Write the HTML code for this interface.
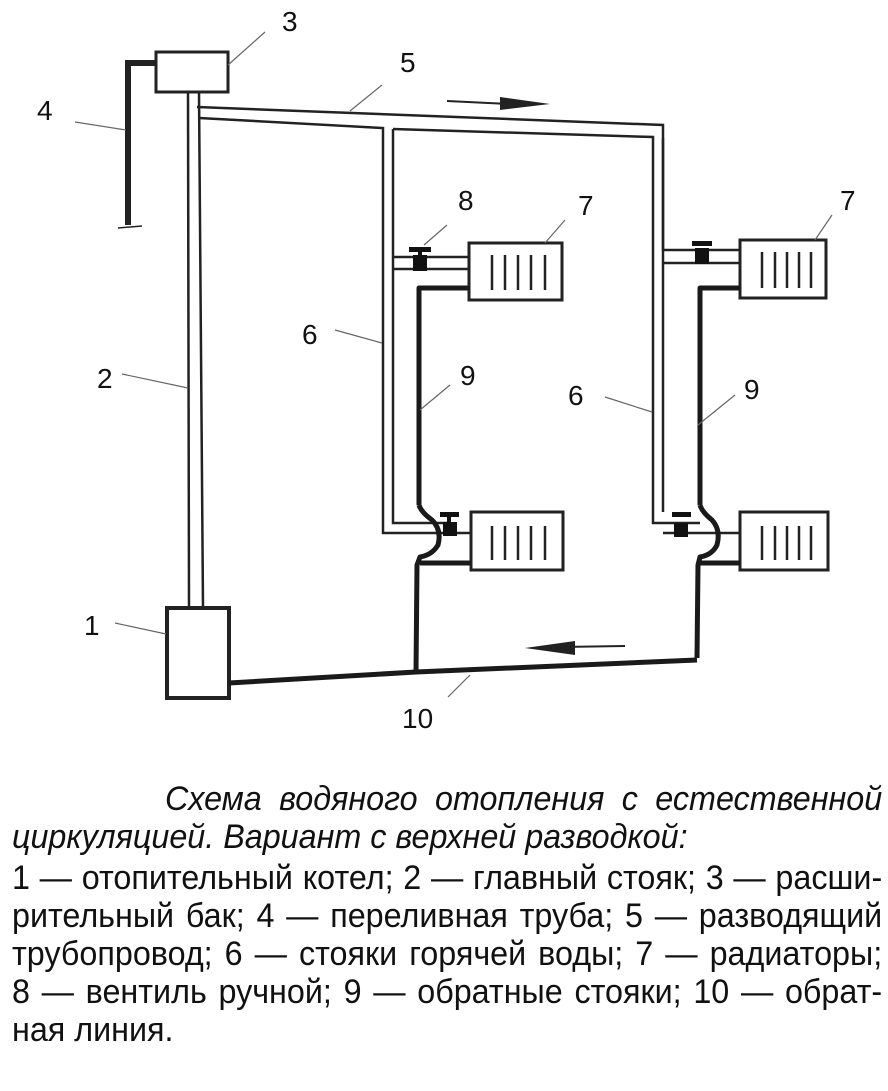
<!DOCTYPE html>
<html><head><meta charset="utf-8"><style>
html,body{margin:0;padding:0;background:#fff;}
body{width:888px;height:1091px;position:relative;overflow:hidden;font-family:"Liberation Sans",Arial,sans-serif;color:#111;}
svg{position:absolute;left:0;top:0;}
.wrap{position:absolute;left:12px;top:0;width:916px;transform:scaleX(0.95);transform-origin:0 0;}
.ln{position:absolute;left:0;width:916px;font-size:34px;line-height:38px;text-align:justify;text-align-last:justify;white-space:nowrap;}
.it{font-style:italic;}
</style></head><body>
<svg width="888" height="760" viewBox="0 0 888 760">
<g fill="none" stroke="#222" stroke-width="2.5">
<rect x="156" y="52" width="72" height="40" stroke-width="3"/>
<polyline points="156,63 128,63 128,225" stroke-width="6"/>
<line x1="118" y1="228" x2="142" y2="226" stroke-width="1.5"/>
<line x1="188" y1="92" x2="189" y2="608"/>
<line x1="199" y1="92" x2="203" y2="608"/>
<polyline points="197,107 663,125 663,250 700,250"/>
<polyline points="199,118 383,128 383,533 471,533"/>
<polyline points="393,129 653,137 653,523 700,523"/>
<polyline points="393,129 393,523 447,523"/>
<polyline points="663,138 663,512"/>
<line x1="393" y1="257" x2="470" y2="257"/>
<line x1="393" y1="269" x2="470" y2="269"/>
<line x1="663" y1="263" x2="740" y2="263"/>
<line x1="700" y1="250" x2="740" y2="250"/>
<line x1="663" y1="533" x2="740" y2="533"/>
<rect x="469" y="243" width="93" height="57" stroke-width="3"/>
<rect x="740" y="240" width="86" height="58" stroke-width="3"/>
<rect x="471" y="512" width="92" height="58" stroke-width="3"/>
<rect x="740" y="512" width="88" height="58" stroke-width="3"/>
<rect x="167" y="608" width="62" height="90" stroke-width="4"/>
</g>
<g stroke="#222" stroke-width="2.5">
<line x1="492" y1="255" x2="492" y2="290"/><line x1="505" y1="255" x2="505" y2="290"/><line x1="518" y1="255" x2="518" y2="290"/><line x1="531" y1="255" x2="531" y2="290"/><line x1="545" y1="255" x2="545" y2="290"/>
<line x1="762" y1="252" x2="762" y2="288"/><line x1="775" y1="252" x2="775" y2="288"/><line x1="787" y1="252" x2="787" y2="288"/><line x1="799" y1="252" x2="799" y2="288"/><line x1="811" y1="252" x2="811" y2="288"/>
<line x1="492" y1="526" x2="492" y2="560"/><line x1="505" y1="526" x2="505" y2="560"/><line x1="518" y1="526" x2="518" y2="560"/><line x1="531" y1="526" x2="531" y2="560"/><line x1="545" y1="526" x2="545" y2="560"/>
<line x1="762" y1="526" x2="762" y2="560"/><line x1="775" y1="526" x2="775" y2="560"/><line x1="787" y1="526" x2="787" y2="560"/><line x1="799" y1="526" x2="799" y2="560"/><line x1="811" y1="526" x2="811" y2="560"/>
</g>
<g fill="none" stroke="#1a1a1a" stroke-width="5" stroke-linejoin="round">
<polyline points="470,288 419,288 419,505"/>
<path d="M419,505 Q421,512 432,520 Q442,530 438,545 Q432,555 420,557 L417,565 L416,672"/>
<line x1="420" y1="563" x2="471" y2="563"/>
<polyline points="740,288 700,288 700,505"/>
<path d="M700,505 Q702,512 712,520 Q721,530 717,545 Q712,555 700,557 L698,565 L697,658"/>
<line x1="700" y1="563" x2="740" y2="563"/>
<polyline points="229,683 416,672 697,660"/>
</g>
<g fill="#111">
<rect x="413" y="255" width="14" height="16"/><rect x="409" y="247" width="22" height="5"/><rect x="418" y="250" width="4" height="6"/>
<rect x="695" y="248" width="14" height="16"/><rect x="692" y="241" width="20" height="5"/>
<rect x="443" y="522" width="14" height="14"/><rect x="440" y="512" width="19" height="5"/><rect x="447" y="515" width="4" height="8"/>
<rect x="674" y="523" width="14" height="14"/><rect x="672" y="512" width="19" height="5"/>
</g>
<line x1="447" y1="101" x2="510" y2="104" stroke="#222" stroke-width="2"/>
<polygon points="500,97 550,104 500,110" fill="#222"/>
<line x1="560" y1="647" x2="625" y2="646" stroke="#222" stroke-width="2"/>
<polygon points="575,641 525,648 575,655" fill="#222"/>
<g stroke="#666" stroke-width="1.2">
<line x1="228" y1="65" x2="265" y2="32"/>
<line x1="350" y1="111" x2="382" y2="85"/>
<line x1="75" y1="122" x2="126" y2="130"/>
<line x1="424" y1="245" x2="447" y2="225"/>
<line x1="545" y1="243" x2="565" y2="220"/>
<line x1="815" y1="240" x2="832" y2="215"/>
<line x1="335" y1="330" x2="382" y2="343"/>
<line x1="122" y1="374" x2="188" y2="388"/>
<line x1="420" y1="410" x2="450" y2="385"/>
<line x1="605" y1="397" x2="652" y2="412"/>
<line x1="698" y1="425" x2="735" y2="395"/>
<line x1="115" y1="623" x2="166" y2="634"/>
<line x1="448" y1="697" x2="470" y2="675"/>
</g>
<g font-family="Liberation Sans, Arial, sans-serif" font-size="28" fill="#111">
<text x="282" y="31">3</text>
<text x="400" y="72">5</text>
<text x="37" y="120">4</text>
<text x="458" y="210">8</text>
<text x="578" y="215">7</text>
<text x="840" y="210">7</text>
<text x="302" y="344">6</text>
<text x="97" y="388">2</text>
<text x="460" y="385">9</text>
<text x="568" y="405">6</text>
<text x="744" y="399">9</text>
<text x="84" y="635">1</text>
<text x="402" y="728">10</text>
</g>
</svg>
<div class="wrap">
<div class="ln it" style="top:780px;left:161px;width:755px;">Схема водяного отопления с естественной</div>
<div class="ln it" style="top:818px;text-align-last:left;">циркуляцией. Вариант с верхней разводкой:</div>
<div class="ln" style="top:859px;">1 — отопительный котел; 2 — главный стояк; 3 — расши-</div>
<div class="ln" style="top:897px;">рительный бак; 4 — переливная труба; 5 — разводящий</div>
<div class="ln" style="top:935px;">трубопровод; 6 — стояки горячей воды; 7 — радиаторы;</div>
<div class="ln" style="top:973px;">8 — вентиль ручной; 9 — обратные стояки; 10 — обрат-</div>
<div class="ln" style="top:1011px;text-align-last:left;">ная линия.</div>
</div>
</body></html>
